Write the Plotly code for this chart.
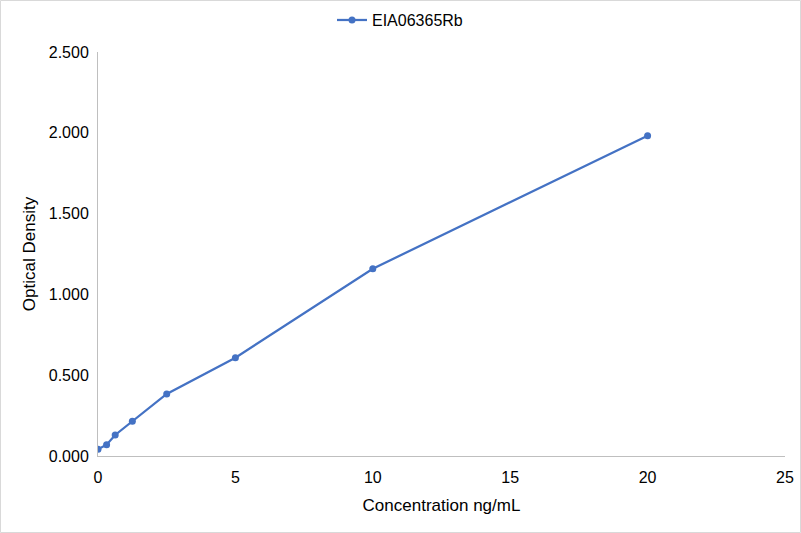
import plotly.graph_objects as go

# standard curve readings
conc = [0, 0.3125, 0.625, 1.25, 2.5, 5, 10, 20]
od = [0.041, 0.070, 0.130, 0.215, 0.384, 0.608, 1.159, 1.982]

blue = '#4472C4'
grey = '#BFBFBF'
font = 'Liberation Sans, Arial, sans-serif'

fig = go.Figure()
fig.add_trace(go.Scatter(x=conc, y=od, mode='lines+markers', name='EIA06365Rb',
                         line=dict(color=blue, width=2.25),
                         marker=dict(color=blue, size=7)))

fig.update_layout(
    width=801, height=533,
    margin=dict(l=98, r=16, t=52, b=77, autoexpand=False),
    paper_bgcolor='white', plot_bgcolor='white',
    font=dict(family=font, size=16, color='#000000'),
    showlegend=True,
    legend=dict(orientation='h', x=0.4396, xanchor='center', y=1.079, yanchor='middle',
                font=dict(size=16)),
)

fig.update_xaxes(range=[0, 25], dtick=5, tick0=0, showgrid=False, zeroline=False,
                 showline=True, linecolor=grey, linewidth=1, ticks='',
                 tickfont=dict(size=16), ticklabelstandoff=7,
                 title=dict(text='Concentration ng/mL', standoff=13, font=dict(size=17)))
fig.update_yaxes(range=[0, 2.5], dtick=0.5, tick0=0, tickformat='.3f', showgrid=False,
                 zeroline=False, showline=True, linecolor=grey, linewidth=1, ticks='',
                 tickfont=dict(size=16), ticklabelstandoff=5,
                 title=dict(text='Optical Density', standoff=8, font=dict(size=17)))

# thin frame round the whole chart
fig.add_shape(type='rect', xref='paper', yref='paper',
              x0=-0.1419, x1=1.0226, y0=-0.1894, y1=1.1275,
              line=dict(color='#D9D9D9', width=1))

fig.write_html('out.html', config={'displayModeBar': False},
               post_script="document.body.style.margin='0';")
